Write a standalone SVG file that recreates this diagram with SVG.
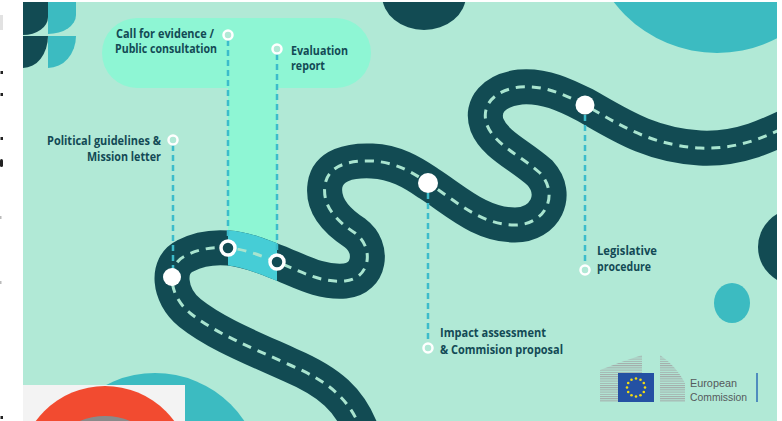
<svg xmlns="http://www.w3.org/2000/svg" width="782" height="421" viewBox="0 0 782 421">
  <style>
    .lbl { font-family: "Open Sans", "Liberation Sans", sans-serif; font-weight: 700; font-size: 11.5px; fill: #134a55; }
    .road { fill: none; stroke: #124b53; stroke-width: 35; stroke-linecap: butt; stroke-linejoin: round; }
    .road-hi { fill: none; stroke: #46cdd6; stroke-width: 35; }
    .lane { fill: none; stroke: #a9e4cf; stroke-width: 3; stroke-dasharray: 9 7; }
    .link { fill: none; stroke: #3cbccb; stroke-width: 2.5; stroke-dasharray: 6 4; }
    .pin { fill: #b1e9d6; stroke: #ffffff; stroke-width: 2.5; }
    .pin-road { fill: #124b53; stroke: #ffffff; stroke-width: 3.5; }
    .stop { fill: #ffffff; }
    .eclogo { font-family: "Liberation Sans", Arial, sans-serif; font-size: 11px; fill: #555a5c; }
  </style>
  <defs>
    <clipPath id="slide"><rect x="23" y="2" width="754" height="419"/></clipPath>
    <clipPath id="band"><rect x="228" y="200" width="49" height="100"/></clipPath>
    <pattern id="hatch" width="4" height="2.2" patternUnits="userSpaceOnUse">
      <rect width="4" height="1" fill="#a3a8a8"/>
    </pattern>
    <path id="route" d="M 362,432 C 350,400 330,382 290,365 C 250,347 215,333 190,313 C 168,295 166,265 185,256 C 200,248 215,247 228,248 C 245,249 262,256 277,262 C 300,271 320,283 345,281 C 370,279 375,248 355,233 C 335,220 322,205 325,185 C 328,165 350,160 372,161 C 395,162 412,172 428,183 C 455,200 480,225 515,225 C 545,225 560,195 540,173 C 520,155 495,145 487,125 C 480,105 495,90 520,87 C 545,85 565,95 585,105 C 620,125 650,145 700,148 C 740,150 770,135 800,120"/>
  </defs>

  <!-- page -->
  <rect width="782" height="421" fill="#ffffff"/>
  <rect x="0" y="15" width="3" height="15" fill="#e2e2e2"/>
  <g fill="#222">
    <rect x="0.5" y="71" width="2.5" height="3"/>
    <rect x="0.5" y="93" width="2.5" height="3"/>
    <rect x="0.5" y="137" width="2.5" height="3"/>
    <rect x="0" y="159" width="3" height="8" rx="1.5"/>
    <rect x="0.5" y="416" width="2.5" height="3"/>
  </g>
  <g fill="#bbb">
    <rect x="0" y="216" width="1.5" height="3"/>
    <rect x="0" y="281" width="1.5" height="3"/>
  </g>

  <g clip-path="url(#slide)">
    <rect x="23" y="2" width="754" height="419" fill="#b1e9d6"/>

    <!-- corner ornament -->
    <path d="M23,2 H48 V17 A25,18 0 0 1 23,35 Z" fill="#124b53"/>
    <path d="M23,36 H48 A25,32 0 0 1 23,68 Z" fill="#124b53"/>
    <path d="M48,2 H76 V15 A28,19 0 0 1 48,34 Z" fill="#3cbbc1"/>
    <path d="M48,36 H76 A28,32 0 0 1 48,68 Z" fill="#3cbbc1"/>

    <!-- background discs -->
    <ellipse cx="424" cy="-5" rx="42" ry="35" fill="#124b53"/>
    <circle cx="717" cy="-77" r="130" fill="#3cbbc1"/>
    <ellipse cx="796" cy="247" rx="38" ry="38" fill="#124b53"/>
    <ellipse cx="732" cy="303" rx="18" ry="20" fill="#3cbbc1"/>
    <circle cx="155" cy="480" r="107" fill="#3cbbc1"/>

    <!-- highlighted consultation panel -->
    <rect x="102" y="18" width="269" height="70" rx="35" fill="#8ef6d4"/>
    <rect x="228" y="80" width="49" height="170" fill="#8ef6d4"/>

    <!-- road -->
    <use href="#route" class="road"/>
    <use href="#route" class="road-hi" clip-path="url(#band)"/>
    <use href="#route" class="lane"/>

    <!-- inset photo -->
    <rect x="23" y="385" width="162" height="40" fill="#f3f3f3"/>
    <g clip-path="url(#photo)">
      <circle cx="105" cy="472" r="86" fill="#f24b30"/>
      <circle cx="105" cy="482" r="66" fill="#8a8a8a"/>
    </g>
  </g>
  <defs><clipPath id="photo"><rect x="23" y="385" width="162" height="40"/></clipPath></defs>

  <!-- connectors -->
  <g id="connectors">
    <line class="link" x1="228" y1="40" x2="228" y2="240"/>
    <line class="link" x1="277" y1="54" x2="277" y2="254"/>
    <line class="link" x1="173" y1="145" x2="173" y2="268"/>
    <line class="link" x1="428" y1="193" x2="428" y2="343"/>
    <line class="link" x1="585" y1="115" x2="585" y2="265"/>
  </g>

  <g id="political-guidelines">
    <circle class="stop" cx="172" cy="277" r="9"/>
    <circle class="pin" cx="173" cy="140" r="4.5"/>
    <text class="lbl" x="161" y="145" text-anchor="end" textLength="114" lengthAdjust="spacingAndGlyphs">Political guidelines &amp;</text>
    <text class="lbl" x="161" y="161" text-anchor="end" textLength="74" lengthAdjust="spacingAndGlyphs">Mission letter</text>
  </g>

  <g id="call-for-evidence">
    <circle class="pin-road" cx="228" cy="248" r="7"/>
    <circle class="pin" cx="228" cy="35" r="4.5"/>
    <text class="lbl" x="116" y="38" textLength="98" lengthAdjust="spacingAndGlyphs">Call for evidence /</text>
    <text class="lbl" x="115" y="53" textLength="102" lengthAdjust="spacingAndGlyphs">Public consultation</text>
  </g>

  <g id="evaluation-report">
    <circle class="pin-road" cx="277" cy="262" r="7"/>
    <circle class="pin" cx="277" cy="49" r="4.5"/>
    <text class="lbl" x="291" y="55" textLength="57" lengthAdjust="spacingAndGlyphs">Evaluation</text>
    <text class="lbl" x="291" y="70" textLength="34" lengthAdjust="spacingAndGlyphs">report</text>
  </g>

  <g id="impact-assessment">
    <circle class="stop" cx="428" cy="183" r="10"/>
    <circle class="pin" cx="428" cy="348" r="4.5"/>
    <text class="lbl" x="440" y="337" textLength="106" lengthAdjust="spacingAndGlyphs">Impact assessment</text>
    <text class="lbl" x="440" y="354" textLength="123" lengthAdjust="spacingAndGlyphs">&amp; Commision proposal</text>
  </g>

  <g id="legislative-procedure">
    <circle class="stop" cx="585" cy="105" r="9.5"/>
    <circle class="pin" cx="585" cy="270" r="4.5"/>
    <text class="lbl" x="597" y="255" textLength="60" lengthAdjust="spacingAndGlyphs">Legislative</text>
    <text class="lbl" x="597" y="271" textLength="54" lengthAdjust="spacingAndGlyphs">procedure</text>
  </g>

  <!-- European Commission logo -->
  <g id="ec-logo">
    <path d="M600,370 Q620,362 642,355 V402 H600 Z" fill="url(#hatch)"/>
    <path d="M660,355 Q676,366 685,383 V402 H660 Z" fill="url(#hatch)"/>
    <rect x="618" y="373" width="36" height="29" fill="#2451a3"/>
    <g fill="#f3dc12">
      <circle cx="636" cy="378.5" r="1.3"/>
      <circle cx="640.5" cy="379.7" r="1.3"/>
      <circle cx="643.8" cy="383" r="1.3"/>
      <circle cx="645" cy="387.5" r="1.3"/>
      <circle cx="643.8" cy="392" r="1.3"/>
      <circle cx="640.5" cy="395.3" r="1.3"/>
      <circle cx="636" cy="396.5" r="1.3"/>
      <circle cx="631.5" cy="395.3" r="1.3"/>
      <circle cx="628.2" cy="392" r="1.3"/>
      <circle cx="627" cy="387.5" r="1.3"/>
      <circle cx="628.2" cy="383" r="1.3"/>
      <circle cx="631.5" cy="379.7" r="1.3"/>
    </g>
    <text class="eclogo" x="690" y="387" textLength="47" lengthAdjust="spacingAndGlyphs">European</text>
    <text class="eclogo" x="690" y="401" textLength="57" lengthAdjust="spacingAndGlyphs">Commission</text>
    <line x1="757" y1="373" x2="757" y2="402" stroke="#2f6db6" stroke-width="1.5"/>
  </g>
</svg>
